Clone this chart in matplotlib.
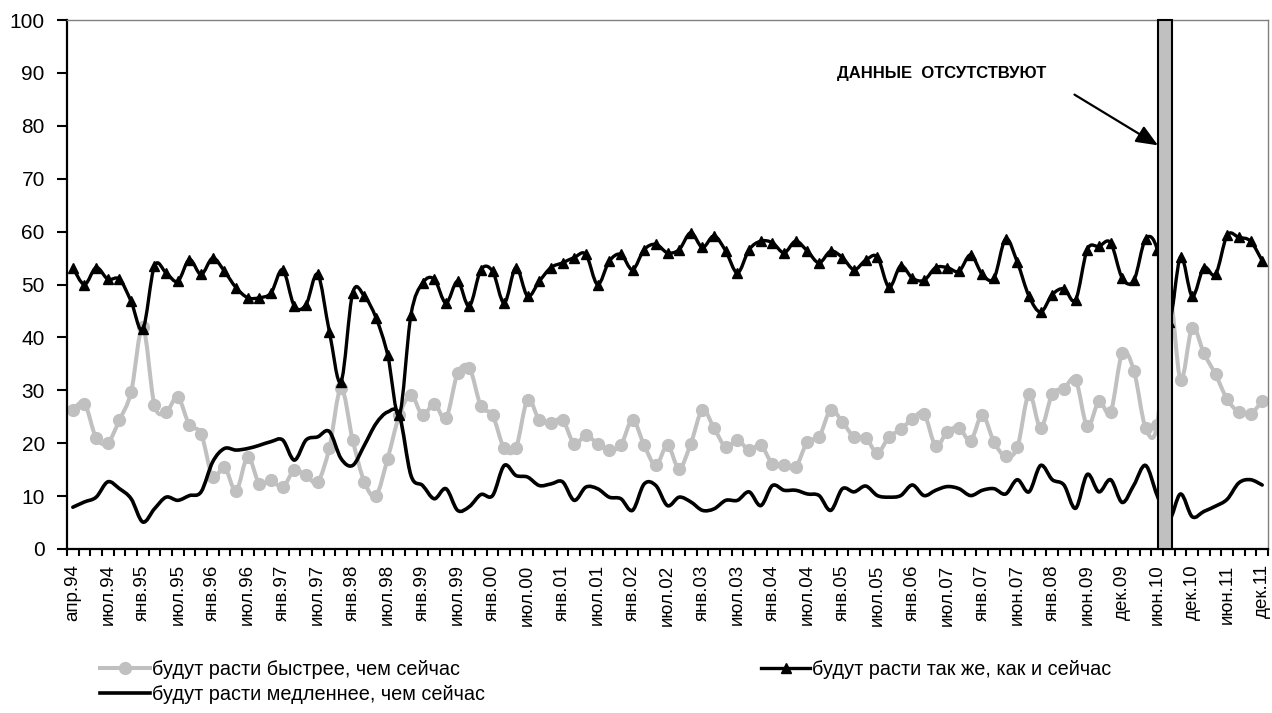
import numpy as np
import matplotlib
matplotlib.use("Agg")
import matplotlib.pyplot as plt
from matplotlib.path import Path
from matplotlib.patches import PathPatch
from matplotlib.lines import Line2D

plt.rcParams['font.family'] = ['Liberation Sans', 'DejaVu Sans']

# tick labels, one for every 3rd survey point
tick_labels = ["апр.94", "июл.94", "янв.95", "июл.95", "янв.96", "июл.96", "янв.97",
               "июл.97", "янв.98", "июл.98", "янв.99", "июл.99", "янв.00", "июл.00",
               "янв.01", "июл.01", "янв.02", "июл.02", "янв.03", "июл.03", "янв.04",
               "июл.04", "янв.05", "июл.05", "янв.06", "июл.07", "янв.07", "июн.07",
               "янв.08", "июн.09", "дек.09", "июн.10", "дек.10", "июн.11", "дек.11"]

faster = [26.3, 27.5, 21.0, 20.1, 24.4, 29.7, 42.0, 27.2, 25.9, 28.7, 23.4, 21.8, 13.6, 15.5,
          11.0, 17.4, 12.3, 13.0, 11.7, 14.9, 13.9, 12.7, 19.1, 30.4, 20.6, 12.7, 10.1, 17.1,
          25.3, 29.1, 25.3, 27.5, 24.7, 33.2, 34.3, 27.0, 25.3, 19.0, 19.1, 28.2, 24.4, 23.9,
          24.4, 19.9, 21.5, 19.9, 18.7, 19.6, 24.4, 19.6, 15.8, 19.6, 15.2, 19.9, 26.3, 22.8,
          19.3, 20.6, 18.7, 19.6, 16.1, 15.8, 15.5, 20.3, 21.2, 26.3, 24.0, 21.2, 21.0, 18.2,
          21.2, 22.6, 24.6, 25.6, 19.5, 22.2, 22.9, 20.5, 25.3, 20.2, 17.5, 19.2, 29.3, 22.9,
          29.3, 30.3, 32.0, 23.2, 27.9, 25.9, 37.0, 33.7, 22.9, 23.5, 48.0, 32.0, 41.8, 37.0,
          33.0, 28.3, 25.9, 25.6, 27.9]

same = [53.2, 50.0, 53.2, 51.0, 51.0, 46.8, 41.5, 53.5, 52.2, 50.6, 54.7, 51.9, 55.0, 52.5,
        49.4, 47.5, 47.5, 48.4, 52.8, 45.9, 46.2, 51.9, 41.1, 31.6, 48.4, 47.8, 43.7, 36.7,
        25.3, 44.3, 50.3, 51.0, 46.5, 50.6, 45.9, 52.8, 52.5, 46.5, 53.2, 47.8, 50.6, 53.2,
        54.1, 55.1, 55.7, 50.0, 54.4, 55.7, 52.8, 56.6, 57.6, 56.0, 56.6, 59.8, 57.0, 59.2,
        56.3, 52.2, 56.6, 58.2, 57.9, 56.0, 58.2, 56.3, 54.1, 56.3, 55.1, 52.8, 54.6, 55.2,
        49.5, 53.5, 51.2, 50.8, 53.2, 53.2, 52.5, 55.6, 51.9, 51.2, 58.6, 54.2, 47.8, 44.8,
        48.1, 49.2, 47.1, 56.6, 57.2, 57.9, 51.2, 50.8, 58.6, 56.6, 43.0, 55.2, 47.8, 53.2,
        51.9, 59.3, 58.9, 58.2, 54.5]

slower = [7.9, 8.9, 9.8, 12.7, 11.4, 9.5, 5.1, 7.6, 9.8, 9.2, 10.1, 10.8, 16.5, 19.0,
          18.7, 19.0, 19.6, 20.3, 20.6, 16.8, 20.6, 21.2, 22.2, 17.1, 15.8, 19.6, 23.7, 25.9,
          25.3, 13.9, 12.0, 9.5, 11.4, 7.3, 8.0, 10.3, 10.1, 15.8, 13.9, 13.6, 12.0, 12.3,
          12.7, 9.2, 11.7, 11.4, 9.8, 9.5, 7.3, 12.3, 12.0, 8.2, 9.8, 8.9, 7.3, 7.6,
          9.2, 9.2, 10.8, 8.2, 12.0, 11.1, 11.1, 10.4, 10.1, 7.3, 11.4, 10.8, 11.9, 10.1,
          9.8, 10.1, 12.1, 10.1, 11.1, 11.8, 11.4, 10.1, 11.1, 11.4, 10.4, 13.1, 10.8, 15.8,
          13.1, 12.1, 7.7, 14.1, 10.8, 13.1, 8.8, 12.1, 15.8, 10.1, 5.5, 10.4, 6.1, 7.1,
          8.1, 9.4, 12.5, 13.1, 12.1]

labels = ["будут расти быстрее, чем сейчас",
          "будут расти так же, как и сейчас",
          "будут расти медленнее, чем сейчас"]

# period without data (grey bar), in category units
gap_x = 93.67
gap_w = 1.2

GREY = "#c0c0c0"


def smooth_path(x, y):
    # bezier "smoothed line" like the spreadsheet draws it
    pts = np.column_stack([x, y])
    n = len(pts)
    verts = [pts[0]]
    codes = [Path.MOVETO]
    for k in range(n - 1):
        p0 = pts[max(k - 1, 0)]
        p1 = pts[k]
        p2 = pts[k + 1]
        p3 = pts[min(k + 2, n - 1)]
        verts += [p1 + (p2 - p0) / 6, p2 - (p3 - p1) / 6, p2]
        codes += [Path.CURVE4] * 3
    return Path(verts, codes)


fig = plt.figure(figsize=(12.72, 7.13), dpi=100)
ax = fig.add_axes([67 / 1272, 1 - 549 / 713, 1201 / 1272, 529 / 713])

x = np.arange(len(faster))

ax.add_patch(PathPatch(smooth_path(x, faster), fill=False, edgecolor=GREY, lw=2.9,
                       capstyle="round", joinstyle="round", zorder=2))
ax.plot(x, faster, ls="none", marker="o", ms=8.5, color=GREY, zorder=2)

ax.add_patch(PathPatch(smooth_path(x, same), fill=False, edgecolor="black", lw=2.4,
                       capstyle="round", joinstyle="round", zorder=3))
ax.plot(x, same, ls="none", marker="^", ms=6.5, color="black", zorder=3)

ax.add_patch(PathPatch(smooth_path(x, slower), fill=False, edgecolor="black", lw=2.6,
                       capstyle="round", joinstyle="round", zorder=4))

ax.bar(gap_x, 100, width=gap_w, bottom=0, color=GREY, edgecolor="black", lw=1.5,
       zorder=5, clip_on=False)

ax.text(74.5, 89.9, "ДАННЫЕ  ОТСУТСТВУЮТ", ha="center", va="center",
        fontsize=12, fontweight="bold")
ax.annotate("", xy=(gap_x - gap_w / 2, 76.3), xytext=(85.9, 85.9),
            arrowprops=dict(arrowstyle="-|>,head_length=0.6,head_width=0.25",
                            color="black", lw=1.6, mutation_scale=22,
                            shrinkA=0, shrinkB=0), zorder=6)

ax.set_xlim(-0.5, len(faster) - 0.5)
ax.set_ylim(0, 100)
ax.set_yticks(np.arange(0, 101, 10))
ax.tick_params(axis="y", labelsize=15, length=7, width=1.5, pad=9)

ax.set_xticks(np.arange(0, len(faster), 3))
ax.set_xticklabels(tick_labels, rotation=90, fontsize=13.5)
ax.set_xticks(np.arange(-0.5, len(faster), 1), minor=True)
ax.tick_params(axis="x", which="major", length=0, pad=11)
ax.tick_params(axis="x", which="minor", length=5, width=1.5)

for side in ["top", "right"]:
    ax.spines[side].set_color("#808080")
    ax.spines[side].set_linewidth(1)
for side in ["left", "bottom"]:
    ax.spines[side].set_linewidth(1.6)

handles = [Line2D([], [], color=GREY, lw=2.9, marker="o", ms=8.5),
           Line2D([], [], color="black", lw=2.6),
           Line2D([], [], color="black", lw=2.4, marker="^", ms=6.5)]
fig.legend(handles, [labels[0], labels[2], labels[1]], ncol=2, frameon=False,
           loc="upper left", bbox_to_anchor=(100 / 1272, 1 - 660 / 713),
           fontsize=14.3, handlelength=2.5, handletextpad=0.1, columnspacing=13.9,
           labelspacing=0.3, borderpad=0, borderaxespad=0)

fig.savefig("out.png", dpi=100)
